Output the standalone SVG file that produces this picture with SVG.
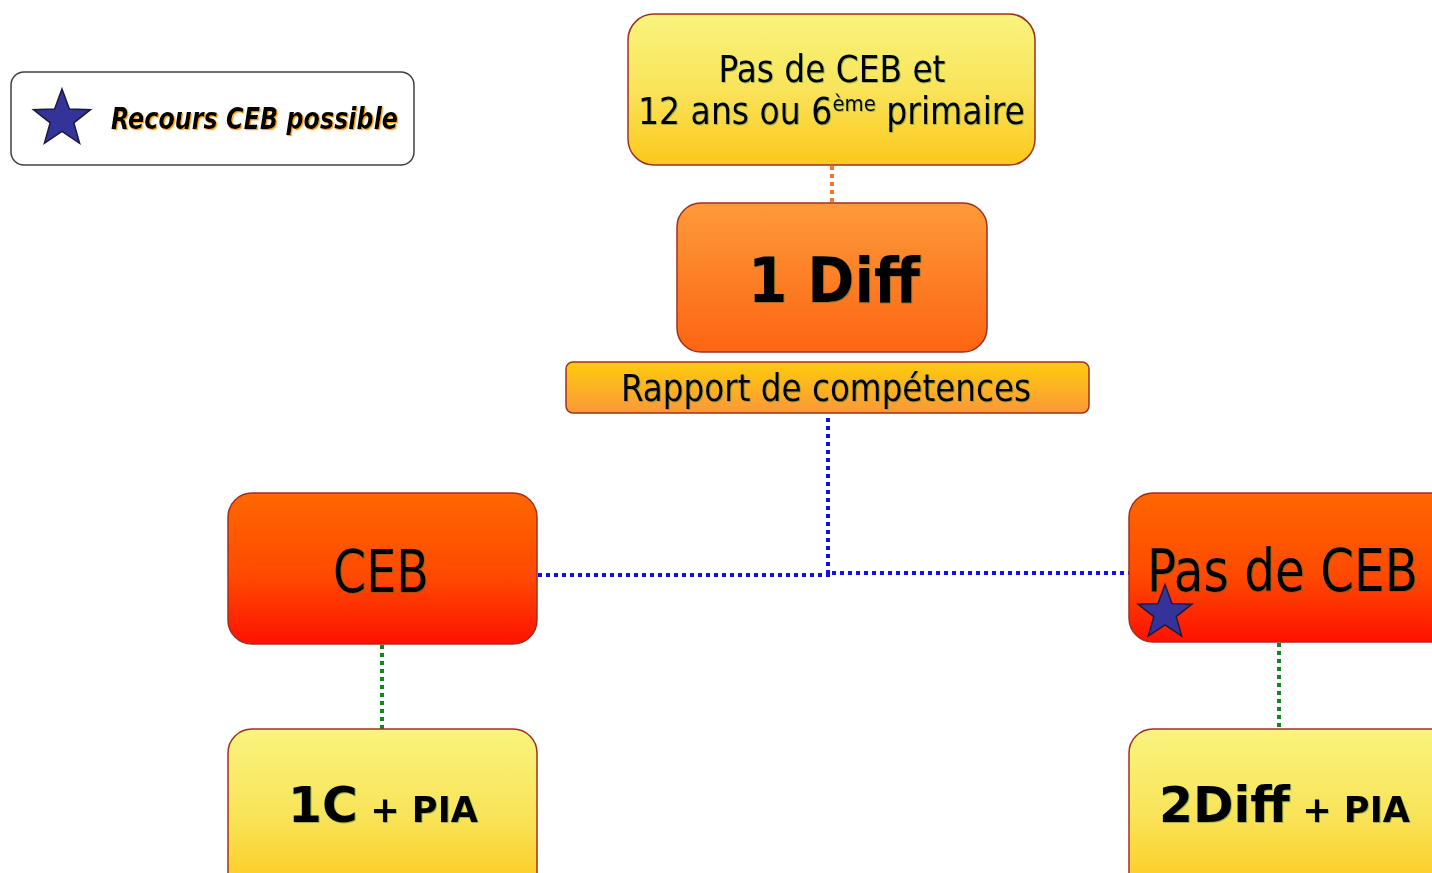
<svg xmlns="http://www.w3.org/2000/svg" width="1432" height="873" viewBox="0 0 1432 873">
<defs>
<linearGradient id="gYellow" x1="0" y1="0" x2="0" y2="1"><stop offset="0" stop-color="#f8f47e"/><stop offset="0.5" stop-color="#f9e45a"/><stop offset="1" stop-color="#fcc81a"/></linearGradient>
<linearGradient id="gOrange" x1="0" y1="0" x2="0" y2="1"><stop offset="0" stop-color="#fd9a3a"/><stop offset="1" stop-color="#fd6512"/></linearGradient>
<linearGradient id="gRapport" x1="0" y1="0" x2="0" y2="1"><stop offset="0" stop-color="#fdcc0c"/><stop offset="1" stop-color="#fb9838"/></linearGradient>
<linearGradient id="gRed" x1="0" y1="0" x2="0" y2="1"><stop offset="0" stop-color="#fe6700"/><stop offset="0.55" stop-color="#fe4a00"/><stop offset="1" stop-color="#fe1200"/></linearGradient>
<filter id="glow" x="-5%" y="-20%" width="110%" height="140%"><feDropShadow dx="0.8" dy="0.8" stdDeviation="0.5" flood-color="#1a6a3a" flood-opacity="0.5"/></filter>
<filter id="glowO" x="-5%" y="-20%" width="110%" height="140%"><feDropShadow dx="1.2" dy="1.2" stdDeviation="0.6" flood-color="#ff9900" flood-opacity="0.9"/></filter>
<polygon id="star" points="0,-30 7.4,-9.9 28.5,-9.3 11.8,3.8 17.6,24.3 0,12.5 -17.6,24.3 -11.8,3.8 -28.5,-9.3 -7.4,-9.9"/>
</defs>
<style>
.box{stroke:#a03020;stroke-width:1.5}
.t{font-family:"DejaVu Sans Condensed","DejaVu Sans",sans-serif;fill:#000;filter:url(#glow)}
.b{font-family:"DejaVu Sans",sans-serif;font-weight:bold;fill:#000;filter:url(#glow)}
.star{fill:#333399;stroke:#1a1a40;stroke-width:1.5}
.dot{fill:none;stroke-width:4;stroke-dasharray:4 4}
</style>
<rect width="1432" height="873" fill="#ffffff"/>
<g id="connectors">
<line class="dot" x1="832" y1="166" x2="832" y2="203" stroke="#fd7a2a"/>
<line class="dot" x1="828" y1="418" x2="828" y2="573" stroke="#1010ee"/>
<polyline class="dot" points="538,575 828,575 828,573 1129,573" stroke="#1010ee"/>
<line class="dot" x1="382" y1="645" x2="382" y2="729" stroke="#108a20"/>
<line class="dot" x1="1279" y1="643" x2="1279" y2="729" stroke="#108a20"/>
</g>
<g id="legend">
<rect x="11" y="72" width="403" height="93" rx="13" fill="#ffffff" stroke="#404040" stroke-width="1.5"/>
<use href="#star" class="star" transform="translate(62,119)"/>
<text x="111" y="129" font-family="DejaVu Sans Condensed, DejaVu Sans, sans-serif" font-weight="bold" font-style="italic" font-size="31" textLength="287" lengthAdjust="spacingAndGlyphs" filter="url(#glowO)">Recours CEB possible</text>
</g>
<g id="node-top">
<rect class="box" x="628" y="14" width="407" height="151" rx="26" fill="url(#gYellow)"/>
<text class="t" x="832" y="82" font-size="37" text-anchor="middle" textLength="227" lengthAdjust="spacingAndGlyphs">Pas de CEB et</text>
<text class="t" x="638" y="124" font-size="37" textLength="387" lengthAdjust="spacingAndGlyphs">12 ans ou 6<tspan font-size="22" dy="-13">ème</tspan><tspan dy="13"> primaire</tspan></text>
</g>
<g id="node-1diff">
<rect class="box" x="677" y="203" width="310" height="149" rx="24" fill="url(#gOrange)"/>
<text class="b" x="834" y="302" font-size="63" text-anchor="middle" textLength="172" lengthAdjust="spacingAndGlyphs">1 Diff</text>
</g>
<g id="node-rapport">
<rect class="box" x="566" y="362" width="523" height="51" rx="7" fill="url(#gRapport)"/>
<text class="t" x="826" y="401" font-size="37" text-anchor="middle" textLength="410" lengthAdjust="spacingAndGlyphs">Rapport de compétences</text>
</g>
<g id="node-ceb">
<rect class="box" x="228" y="493" width="309" height="151" rx="24" fill="url(#gRed)"/>
<text class="t" x="381" y="592" font-size="58" text-anchor="middle" textLength="96" lengthAdjust="spacingAndGlyphs">CEB</text>
</g>
<g id="node-pasceb">
<rect class="box" x="1129" y="493" width="330" height="149" rx="24" fill="url(#gRed)"/>
<text class="t" x="1147" y="591" font-size="58" textLength="271" lengthAdjust="spacingAndGlyphs">Pas de CEB</text>
<use href="#star" class="star" transform="translate(1165,613) scale(0.95)"/>
</g>
<g id="node-1c">
<rect class="box" x="228" y="729" width="309" height="170" rx="24" fill="url(#gYellow)"/>
<text class="b" x="288" y="822" font-size="50" textLength="190" lengthAdjust="spacingAndGlyphs">1C<tspan font-size="36"> + PIA</tspan></text>
</g>
<g id="node-2diff">
<rect class="box" x="1129" y="729" width="330" height="170" rx="24" fill="url(#gYellow)"/>
<text class="b" x="1159" y="822" font-size="50" textLength="251" lengthAdjust="spacingAndGlyphs">2Diff<tspan font-size="36"> + PIA</tspan></text>
</g>
</svg>
